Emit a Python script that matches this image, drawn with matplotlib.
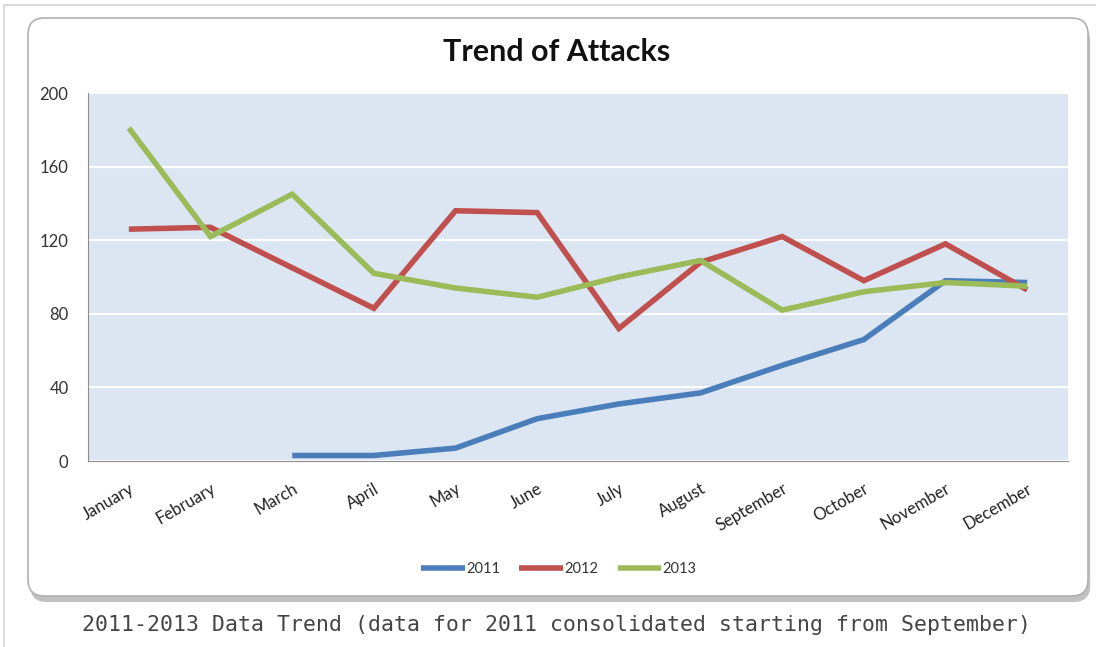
import matplotlib.pyplot as plt
from matplotlib.patches import FancyBboxPatch, Rectangle
import numpy as np

months = ['January', 'February', 'March', 'April', 'May', 'June', 'July',
          'August', 'September', 'October', 'November', 'December']
years = ['2011', '2012', '2013']
attacks_2011 = [np.nan, np.nan, 3, 3, 7, 23, 31, 37, 52, 66, 98, 97]
attacks_2012 = [126, 127, 105, 83, 136, 135, 72, 108, 122, 98, 118, 93]
attacks_2013 = [181, 122, 145, 102, 94, 89, 100, 109, 82, 92, 97, 95]
yticks = [0, 40, 80, 120, 160, 200]
colors = ['#4A7EBB', '#C0504D', '#9BBB59']

plt.rcParams['font.family'] = ['Lato', 'DejaVu Sans']

W, H = 1096, 647
fig = plt.figure(figsize=(W / 100, H / 100), dpi=100)
fig.patch.set_facecolor('white')

# thin page frame
fig.add_artist(Rectangle((0.004, -0.01), 1.0, 1.003, transform=fig.transFigure,
                         facecolor='none', edgecolor='#d4d4d4', lw=1.2, zorder=-3))

# card shadow + rounded card
x0, y0, x1, y1 = 28, 18, 1088, 596
shadow = FancyBboxPatch((x0 / W + 0.002, 1 - (y1 + 6) / H), (x1 - x0) / W, (y1 - y0) / H,
                        boxstyle='round,pad=0,rounding_size=0.015',
                        transform=fig.transFigure, facecolor='#999999',
                        edgecolor='none', alpha=0.6, mutation_aspect=W / H, zorder=-2)
card = FancyBboxPatch((x0 / W, 1 - y1 / H), (x1 - x0) / W, (y1 - y0) / H,
                      boxstyle='round,pad=0,rounding_size=0.015',
                      transform=fig.transFigure, facecolor='white',
                      edgecolor='#b0b0b0', lw=1.2, mutation_aspect=W / H, zorder=-1)
fig.add_artist(shadow)
fig.add_artist(card)

ax = fig.add_axes([88 / W, 1 - 461 / H, (1068 - 88) / W, (461 - 93) / H])
ax.set_zorder(2)
ax.set_facecolor('#dce6f2')
x = np.arange(len(months))
for vals, year, c in zip([attacks_2011, attacks_2012, attacks_2013], years, colors):
    ax.plot(x, vals, color=c, lw=4, label=year, solid_capstyle='butt',
            solid_joinstyle='miter')

ax.set_xlim(-0.5, len(months) - 0.5)
ax.set_ylim(0, 200)
ax.set_yticks(yticks)
ax.yaxis.grid(True, color='white', lw=1.5)
ax.set_axisbelow(True)
ax.set_xticks(x)
ax.set_xticklabels(months, rotation=30, ha='right', rotation_mode='anchor',
                   fontsize=12, color='#222222')
ax.tick_params(axis='x', length=0, pad=14)
ax.tick_params(axis='y', length=0, pad=14, labelsize=12, colors='#333333')
for s in ['top', 'right']:
    ax.spines[s].set_visible(False)
for s in ['left', 'bottom']:
    ax.spines[s].set_color('#8c8c8c')

fig.text(557 / W, 1 - 52 / H, 'Trend of Attacks', ha='center', va='center',
         fontsize=22, fontweight='bold', color='#111111')

leg = fig.legend(loc='center', bbox_to_anchor=(559 / W, 1 - 569 / H), ncol=3,
                 frameon=False, fontsize=10.5, handlelength=3.0, handletextpad=0.1,
                 columnspacing=1.3)
for t in leg.get_texts():
    t.set_color('#333333')

fig.text(557 / W, 1 - 625 / H,
         '2011-2013 Data Trend (data for 2011 consolidated starting from September)',
         ha='center', va='center', fontsize=15.5, color='#444444',
         family='DejaVu Sans Mono')

fig.savefig('out.png', dpi=100)
plt.close()
